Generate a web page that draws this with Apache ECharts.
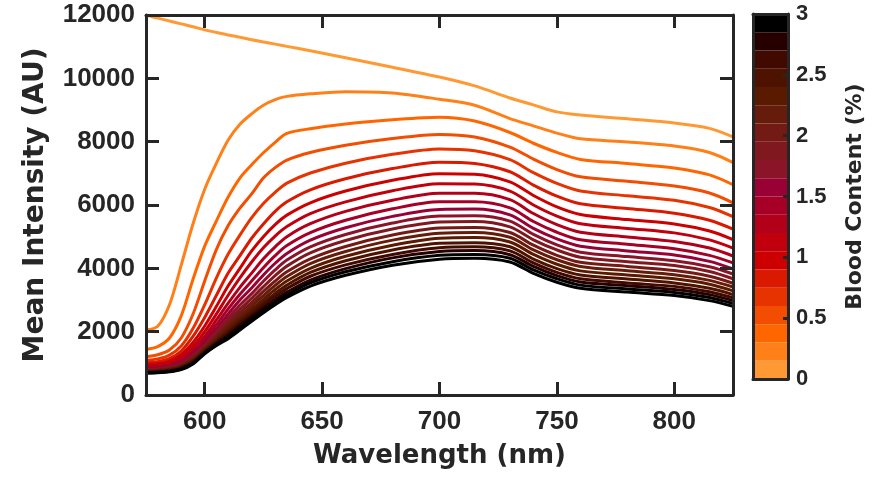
<!DOCTYPE html>
<html><head><meta charset="utf-8">
<script src="https://cdn.jsdelivr.net/npm/echarts@6/dist/echarts.min.js"></script>
<style>html,body{margin:0;padding:0;background:#fff}#c{width:896px;height:481px}</style>
</head><body><div id="c"></div>
<script>
// ---- data ----
const wavelengths = [575,580,585,590,595,600,605,610,615,620,625,630,635,645,660,680,700,715,730,740,750,760,780,800,815,825];
const bloodContent = [0,0.15,0.3,0.45,0.6,0.75,0.9,1.05,1.2,1.35,1.5,1.65,1.8,1.95,2.1,2.25,2.4,2.55,2.7,2.85,3.0];
const c00 = [12000,11900,11810,11720,11630,11530,11450,11370,11300,11220,11150,11080,11010,10870,10650,10350,10040,9760,9380,9160,8940,8840,8720,8590,8420,8150];
const c01 = [2050,2170,2850,4100,5400,6500,7320,8050,8550,8880,9150,9330,9430,9510,9580,9540,9340,9150,8730,8500,8270,8090,7990,7860,7660,7340];
const c02 = [1440,1530,1800,2500,3650,4700,5500,6250,6850,7270,7650,7980,8260,8410,8560,8690,8770,8650,8290,7950,7660,7440,7310,7170,6950,6640];
const c03 = [1210,1270,1420,1800,2550,3600,4600,5350,5900,6350,6850,7180,7420,7660,7890,8100,8230,8150,7830,7450,7120,6890,6750,6600,6380,6070];
const c04 = [1100,1140,1260,1550,2100,2850,3700,4450,5050,5600,6050,6400,6690,7010,7320,7600,7770,7710,7430,7020,6680,6440,6290,6150,5920,5630];
const c05 = [1020,1050,1150,1390,1850,2450,3150,3850,4400,4950,5400,5800,6100,6480,6830,7150,7350,7310,7050,6630,6280,6040,5890,5740,5520,5240];
const c06 = [960,985,1070,1280,1660,2180,2800,3450,4000,4550,5000,5380,5680,6070,6440,6780,6990,6970,6730,6300,5940,5700,5540,5400,5180,4910];
const c07 = [915,935,1010,1200,1530,2000,2560,3150,3700,4200,4650,5020,5320,5730,6100,6450,6670,6660,6440,6000,5650,5410,5260,5120,4900,4640];
const c08 = [880,900,965,1130,1430,1850,2370,2900,3400,3850,4300,4680,5000,5410,5800,6150,6370,6370,6170,5730,5380,5140,4990,4850,4640,4390];
const c09 = [850,870,930,1070,1350,1740,2220,2720,3180,3600,4020,4400,4720,5130,5520,5880,6100,6100,5910,5480,5140,4900,4760,4620,4410,4170];
const c10 = [825,843,900,1030,1290,1650,2090,2560,3000,3380,3790,4160,4470,4890,5280,5640,5860,5870,5690,5260,4930,4700,4550,4420,4220,3980];
const c11 = [805,822,875,995,1240,1580,1990,2430,2840,3200,3590,3950,4260,4680,5070,5430,5650,5660,5490,5070,4740,4510,4370,4240,4050,3820];
const c12 = [785,800,850,965,1200,1520,1910,2320,2710,3050,3420,3770,4070,4490,4880,5240,5460,5480,5310,4900,4580,4350,4210,4090,3900,3670];
const c13 = [770,784,830,940,1160,1480,1850,2230,2600,2920,3270,3600,3890,4300,4690,5050,5270,5290,5130,4730,4410,4190,4060,3930,3750,3530];
const c14 = [755,768,812,915,1125,1440,1790,2150,2500,2810,3140,3460,3740,4150,4530,4890,5110,5130,4980,4580,4270,4060,3920,3800,3620,3410];
const c15 = [742,754,795,892,1095,1410,1740,2080,2410,2710,3020,3330,3600,4000,4380,4730,4950,4970,4830,4440,4130,3920,3790,3670,3500,3290];
const c16 = [730,741,780,870,1065,1380,1690,2010,2330,2620,2920,3210,3470,3870,4240,4580,4790,4810,4680,4290,3990,3790,3660,3540,3370,3170];
const c17 = [720,730,767,850,1040,1360,1650,1950,2260,2540,2830,3110,3360,3750,4110,4440,4650,4680,4550,4170,3870,3670,3540,3430,3260,3070];
const c18 = [710,720,754,832,1015,1340,1620,1890,2190,2470,2740,3010,3250,3630,3990,4330,4530,4560,4430,4060,3770,3570,3450,3330,3170,2980];
const c19 = [700,710,742,815,995,1320,1590,1830,2120,2400,2670,2930,3160,3540,3890,4210,4410,4440,4320,3950,3670,3470,3350,3240,3080,2890];
const c20 = [690,700,730,800,980,1300,1560,1780,2050,2330,2600,2850,3080,3440,3780,4100,4290,4320,4200,3840,3560,3370,3250,3140,2980,2800];
const curves = [c00,c01,c02,c03,c04,c05,c06,c07,c08,c09,c10,c11,c12,c13,c14,c15,c16,c17,c18,c19,c20];

const xTicks = [600,650,700,750,800];
const bandEdges = [0,0.15,0.3,0.45,0.6,0.75,0.9,1.05,1.2,1.35,1.5,1.65,1.8,1.95,2.1,2.25,2.4,2.55,2.7,2.85,3.0];

// ---- styles ----
const bandColors = ['#FF9933','#FF8019','#FF6600','#F24D00','#E63300','#D91A00','#CC0000','#C0000D','#B3001A','#A60026',
                    '#990033','#8C1429','#80181F','#731A14','#661C0A','#591A00','#4D1300','#400A00','#260000','#000000'];
const lineColors = bloodContent.map((b,i)=>bandColors[Math.min(i,bandColors.length-1)]);
const INK = '#262626';
const FT = "'Liberation Sans', Arial, Helvetica, sans-serif";
const FN = "'DejaVu Sans', 'Liberation Sans', sans-serif";

const chart = echarts.init(document.getElementById('c'), null, {renderer:'canvas'});
const frameLine = {show:true, onZero:false, lineStyle:{color:INK, width:3}};
const tickStyle = {color:INK, width:3};
const plain = v => String(v);

const series = curves.map((d,i)=>({
  type:'line', xAxisIndex:0, yAxisIndex:0, name:String(bloodContent[i]),
  data: wavelengths.map((w,j)=>[w,d[j]]),
  showSymbol:false, smooth:0.3, silent:true,
  lineStyle:{width:3, color:lineColors[i]}
}));
bandColors.forEach((c,i)=>{
  series.push({type:'bar', xAxisIndex:2, yAxisIndex:2, stack:'cb', barWidth:'100%', silent:true,
    data:[bandEdges[i+1]-bandEdges[i]], itemStyle:{color:c}});
});

chart.setOption({
  animation:false,
  backgroundColor:'#ffffff',
  grid:[
    {left:146, top:15, width:587, height:380},
    {left:753, top:14, width:35, height:365}
  ],
  xAxis:[
    {type:'value', gridIndex:0, min:575, max:825, position:'bottom', z:10,
     axisLine:frameLine,
     axisTick:{show:true, inside:true, length:13, lineStyle:tickStyle, customValues:xTicks},
     axisLabel:{customValues:xTicks, margin:14, fontFamily:FT, fontSize:26, fontWeight:'bold', color:INK, formatter:plain},
     splitLine:{show:false},
     name:'Wavelength (nm)', nameLocation:'middle', nameGap:48,
     nameTextStyle:{fontFamily:FN, fontSize:26, fontWeight:'bold', color:INK}},
    {type:'value', gridIndex:0, min:575, max:825, position:'top', z:10,
     axisLine:frameLine,
     axisTick:{show:true, inside:true, length:13, lineStyle:tickStyle, customValues:xTicks},
     axisLabel:{show:false}, splitLine:{show:false}},
    {type:'category', gridIndex:1, data:['cb'], position:'bottom', z:10,
     axisLine:frameLine, axisTick:{show:false}, axisLabel:{show:false}},
    {type:'category', gridIndex:1, data:['cb'], position:'top', z:10,
     axisLine:frameLine, axisTick:{show:false}, axisLabel:{show:false}}
  ],
  yAxis:[
    {type:'value', gridIndex:0, min:0, max:12000, interval:2000, position:'left', z:10,
     axisLine:frameLine,
     axisTick:{show:true, inside:true, length:13, lineStyle:tickStyle},
     axisLabel:{margin:11, fontFamily:FT, fontSize:26, fontWeight:'bold', color:INK, formatter:plain},
     splitLine:{show:false},
     name:'Mean Intensity (AU)', nameLocation:'middle', nameGap:96, nameRotate:90,
     nameTextStyle:{fontFamily:FN, fontSize:28, fontWeight:'bold', color:INK}},
    {type:'value', gridIndex:0, min:0, max:12000, interval:2000, position:'right', z:10,
     axisLine:frameLine,
     axisTick:{show:true, inside:true, length:13, lineStyle:tickStyle},
     axisLabel:{show:false}, splitLine:{show:false}},
    {type:'value', gridIndex:1, min:0, max:3, interval:0.5, position:'right', z:10,
     axisLine:frameLine,
     axisTick:{show:true, inside:true, length:5, lineStyle:tickStyle},
     axisLabel:{margin:8, fontFamily:FT, fontSize:22, fontWeight:'bold', color:INK, formatter:plain},
     splitLine:{show:false},
     name:'Blood Content (%)', nameLocation:'middle', nameGap:56, nameRotate:90,
     nameTextStyle:{fontFamily:FN, fontSize:22, fontWeight:'bold', color:INK}},
    {type:'value', gridIndex:1, min:0, max:3, interval:0.5, position:'left', z:10,
     axisLine:frameLine, axisTick:{show:false}, axisLabel:{show:false}, splitLine:{show:false}}
  ],
  series
});
</script></body></html>
